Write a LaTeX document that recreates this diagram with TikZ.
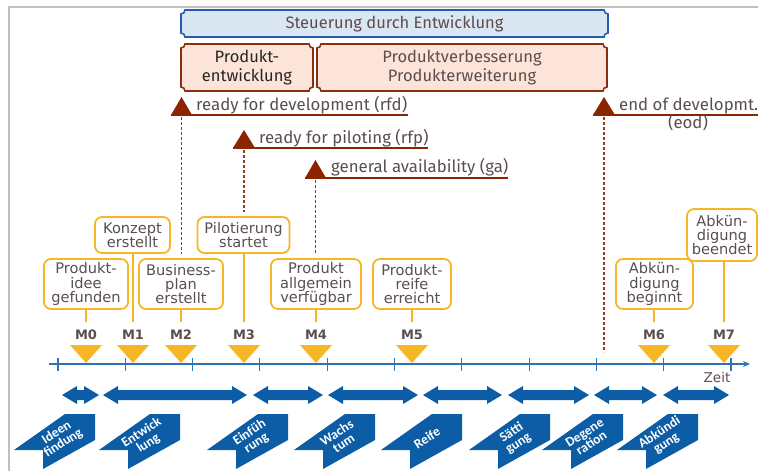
\documentclass[tikz,border=0pt]{standalone}
\usepackage{fontspec}
\setmainfont{Fira Sans}
\newfontfamily\bannerfont{Carlito}
\newfontfamily\boxfont{DejaVu Sans}
\usetikzlibrary{arrows.meta}
\definecolor{txt}{HTML}{5A4E4E}
\definecolor{framegray}{HTML}{C0C0C0}
\definecolor{bluefill}{HTML}{DAE6F2}
\definecolor{blueline}{HTML}{1F5FAD}
\definecolor{brownfill}{HTML}{FCE4D8}
\definecolor{brownline}{HTML}{8B2E0E}
\definecolor{dred}{HTML}{8B2500}
\definecolor{dashred}{HTML}{9A3A1A}
\definecolor{ms}{HTML}{F8B526}
\definecolor{tlblue}{HTML}{2E74B5}
\definecolor{arrblue}{HTML}{0C5DA5}
\newcommand{\concbox}[5]{%
  \path[#1] (#2+4,#3) -- (#4-4,#3) arc[start angle=180,end angle=90,radius=4]
    -- (#4,#5-4) arc[start angle=270,end angle=180,radius=4]
    -- (#2+4,#5) arc[start angle=0,end angle=-90,radius=4]
    -- (#2,#3+4) arc[start angle=90,end angle=0,radius=4] -- cycle;}
\newcommand{\dblarrow}[2]{%
  \fill[arrblue] (#1,395) -- (#1+15,386) -- (#1+15,390) -- (#2-15,390) -- (#2-15,386)
    -- (#2,395) -- (#2-15,404) -- (#2-15,400) -- (#1+15,400) -- (#1+15,404) -- cycle;}
\newcommand{\bannershape}[1]{%
  \fill[arrblue] (#1,414) -- (#1-30,414) -- (#1-81,450) -- (#1-52,450) -- (#1-52,469)
    -- (#1,440) -- cycle;}
\tikzset{
  toptext/.style={text=txt, font=\fontsize{16.5}{19}\selectfont, align=center, inner sep=0},
  msbox/.style={draw=ms, line width=1.8pt, rounded corners=7pt, fill=white, text=txt,
    align=center, inner sep=0, font=\boxfont\fontsize{14.6}{14.3}\selectfont},
  msstem/.style={draw=ms, line width=1.8pt},
  mlab/.style={text=txt, font=\boxfont\bfseries\fontsize{13}{13}\selectfont, inner sep=0},
  mtri/.style={fill=ms},
  redtri/.style={fill=dred},
  redline/.style={draw=dred, line width=1.8pt},
  reddash/.style={draw=dashred, line width=1.1pt, dash pattern=on 3pt off 2pt},
  redtext/.style={text=txt, font=\fontsize{16.8}{18}\selectfont, inner sep=0, anchor=base west},
  bannertext/.style={text=white, font=\bannerfont\bfseries\fontsize{13.5}{12.5}\selectfont,
    align=center, inner sep=0, rotate=33},
}
\begin{document}
\begin{tikzpicture}[x=1pt,y=-1pt]
\useasboundingbox (0,0) rectangle (758,471);
% frame
\draw[framegray, line width=1.5pt] (9,471) -- (9,7) -- (758,7);
% top boxes
\concbox{fill=bluefill, draw=blueline, line width=1.6pt}{181}{10}{608}{37}
\node[toptext] (steu) at (394.5,23.5) {Steuerung durch Entwicklung};
\concbox{fill=brownfill, draw=brownline, line width=1.6pt}{181}{44}{313}{91}
\node[toptext, text=black!85] (pe) at (247,67.5) {Produkt-\\entwicklung};
\concbox{fill=brownfill, draw=brownline, line width=1.6pt}{317}{44}{607}{91}
\node[toptext] (pv) at (462,67.5) {Produktverbesserung\\Produkterweiterung};
% milestone markers
\fill[redtri] (171,115) -- (192,115) -- (181.5,97) -- cycle;
\draw[redline] (171,115) -- (408,115);
\node[redtext] (rfd) at (196,110.5) {ready for development (rfd)};
\fill[redtri] (233,148) -- (255,148) -- (244,130) -- cycle;
\draw[redline] (233,148) -- (428,148);
\node[redtext] (rfp) at (259,143) {ready for piloting (rfp)};
\fill[redtri] (305,178) -- (326,178) -- (315.5,160) -- cycle;
\draw[redline] (305,178) -- (508,178);
\node[redtext] (ga) at (331,172) {general availability (ga)};
\fill[redtri] (593,115) -- (615,115) -- (604,97) -- cycle;
\draw[redline] (593,115) -- (758,115);
\node[redtext] (eod) at (619,110.5) {end of developmt.};
\node[redtext, anchor=base] (eod2) at (688,128.5) {(eod)};
% milestone boxes
\node[msbox, minimum width=84pt, minimum height=50pt] (b0) at (86,284) {Produkt-\\idee\\gefunden};
\node[msbox, minimum width=75pt, minimum height=36pt] (b1) at (132.5,235) {Konzept\\erstellt};
\node[msbox, minimum width=84pt, minimum height=50pt] (b2) at (181,284) {Business-\\plan\\erstellt};
\node[msbox, minimum width=92pt, minimum height=36pt] (b3) at (243.5,235) {Pilotierung\\startet};
\node[msbox, minimum width=90pt, minimum height=50pt] (b4) at (316,284) {Produkt\\allgemein\\verfügbar};
\node[msbox, minimum width=78pt, minimum height=50pt] (b5) at (412,284) {Produkt-\\reife\\erreicht};
\node[msbox, minimum width=77pt, minimum height=50pt] (b6) at (654.5,284) {Abkün-\\digung\\beginnt};
\node[msbox, minimum width=70pt, minimum height=52pt] (b7) at (722,235) {Abkün-\\digung\\beendet};
% dashed lines from markers
\coordinate (d1) at (181.5,117);
\coordinate (d2) at (244,150);
\coordinate (d3) at (315.5,180);
\coordinate (d4) at (604,117);
\coordinate (d4e) at (604,352);
\draw[reddash] (d1) -- ([yshift=4pt]b2.north -| d1);
\draw[reddash] (d2) -- ([yshift=4pt]b3.north -| d2);
\draw[reddash] (d3) -- ([yshift=4pt]b4.north -| d3);
\draw[reddash] (d4) -- (d4e);
% M labels
\foreach \n/\x in {0/86,1/133,2/181,3/244,4/316,5/412,6/654,7/724}{
  \node[mlab] (m\n) at (\x,335) {M\n};
  \fill[mtri] (\x-16,345) -- (\x+16,345) -- (\x,363) -- cycle;
}
\foreach \n in {0,...,7}{
  \draw[msstem] (b\n.south -| m\n) -- ([yshift=8pt]m\n.north);
}
% timeline
\coordinate (t0) at (49,364);
\coordinate (t1) at (750,364);
\draw[tlblue, line width=1.1pt, -{Stealth[length=7pt,width=6pt]}] (t0) -- (t1);
\foreach \x in {58,125.3,192.6,259.9,327.2,394.5,461.8,529.1,596.4,663.7,731}{
  \draw[tlblue, line width=1.1pt] (\x,358) -- (\x,371);
}
\node[text=txt, font=\boxfont\fontsize{13.5}{13.5}\selectfont, inner sep=0] (zeit) at (717,377) {Zeit};
% double arrows
\dblarrow{62}{99}
\dblarrow{103}{247}
\dblarrow{253}{323}
\dblarrow{328}{418}
\dblarrow{423}{502}
\dblarrow{508}{589}
\dblarrow{594}{657}
\dblarrow{663}{729}
% banners
\foreach \t/\a/\b [count=\i] in {95/Ideen/findung,180/Entwick/lung,288/Einfüh/rung,375/Wachs/tum,550/Sätti/gung,623/Degene/ration,698/Abkündi/gung}{
  \bannershape{\t}
  \node[bannertext] (ph\i) at (\t-35,438) {\a\\\b};
}
\bannershape{462}
\node[bannertext] (phr) at (462-35,438) {Reife};
\end{tikzpicture}
\end{document}
